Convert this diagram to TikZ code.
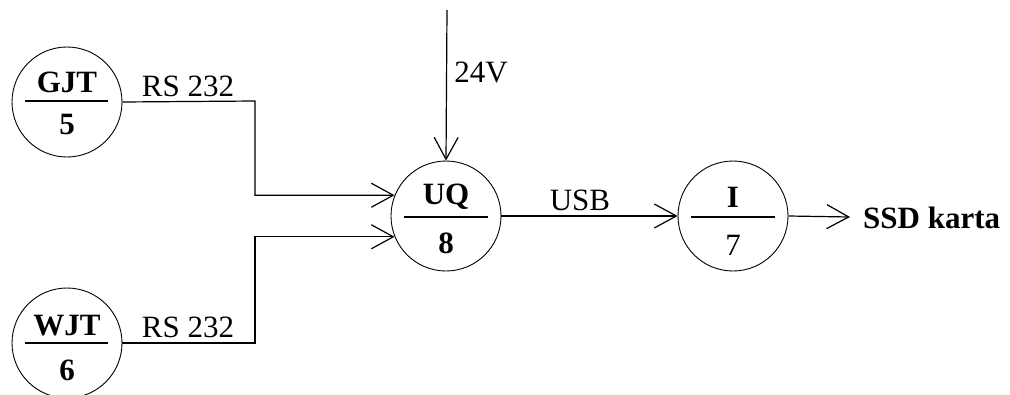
\documentclass[tikz,border=0pt]{standalone}
\usepackage{fontspec}
\setmainfont{Liberation Serif}
\usetikzlibrary{arrows.meta}
\begin{document}
\begin{tikzpicture}[x=1pt,y=-1pt,
  unit/.style={circle,draw,line width=0.9pt,minimum size=110pt,inner sep=0pt},
  big/.style={font=\fontsize{31}{36}\selectfont\bfseries,inner sep=0pt},
  lbl/.style={font=\fontsize{31}{36}\selectfont,inner sep=0pt},
  wire/.style={line width=1.2pt},
  arr/.style={wire,-{Straight Barb[length=22pt,width=24pt,line width=1.2pt]}},
  bar/.style={line width=1.2pt}]
\useasboundingbox (0,0) rectangle (1010,394);
% units
\node[unit] (gjt) at (67,102) {};
\node[unit] (wjt) at (67,343) {};
\node[unit] (uq) at (446,216) {};
\node[unit] (i) at (733,216) {};
% fraction bars and texts
\draw[bar] (25,101) -- (108,101);
\draw[bar] (25,343) -- (108,343);
\draw[bar] (404,217) -- (488,217);
\draw[bar] (691,217) -- (775,217);
\node[big] (gjtt) at (67,82) {GJT};
\node[big] (gjtn) at (67,124) {5};
\node[big] (wjtt) at (67,326) {WJT};
\node[big] (wjtn) at (67,370) {6};
\node[big] (uqt) at (446,197) {UQ};
\node[big] (uqn) at (446,243) {8};
\node[big] (it) at (733,197) {I};
\node[lbl] (in) at (733,245) {7};
% connectors
\coordinate (top) at (447,10);
\draw[arr] (top) -- (uq.north);
\draw[arr] (gjt.east) -- (255,101) |- (uq.158);
\draw[arr] (wjt.east) -- (255,343) |- (uq.202);
\draw[arr] (uq.east) -- (i.west);
\node[big,anchor=west] (ssd) at (863,218) {SSD karta};
\draw[arr] (i.east) -- (850,217);
% labels
\node[lbl] (rs1) at (188,86) {RS 232};
\node[lbl] (rs2) at (188,327) {RS 232};
\node[lbl] (v24) at (481,72) {24V};
\node[lbl] (usb) at (580,200) {USB};
\end{tikzpicture}
\end{document}
